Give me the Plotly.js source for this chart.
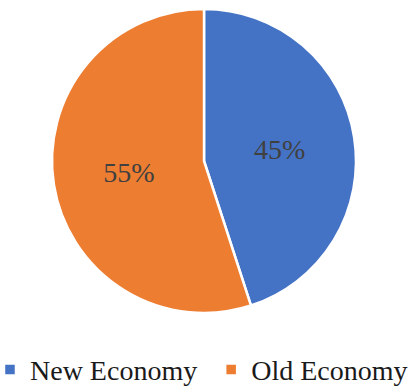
<!DOCTYPE html>
<html>
<head>
<meta charset="utf-8">
<script src="https://cdn.plot.ly/plotly-3.0.1.min.js"></script>
<style>html,body{margin:0;padding:0;background:#fff;}#chart{width:413px;height:387px;}</style>
</head>
<body>
<div id="chart"></div>
<script>
const categories = ["New Economy", "Old Economy"];
const shares = [45, 55];
const sliceColors = ["#4472C4", "#ED7D31"];

const serif = "Liberation Serif";
// small non-collapsing spacer after the first legend entry, so the second entry sits where it does in the reference
const legendLabels = categories.map((c, i) => i < categories.length - 1 ? c + "\u2002\u2005" : c);

const data = [{
  type: "pie",
  labels: legendLabels,
  values: shares,
  sort: false,
  direction: "clockwise",
  rotation: 0,
  domain: { x: [0.126, 0.862], y: [0.191, 0.977] },
  marker: { colors: sliceColors, line: { color: "#ffffff", width: 2.5 } },
  textinfo: "percent",
  textposition: "inside",
  insidetextorientation: "horizontal",
  texttemplate: "%{percent:.0%}",
  textfont: { family: serif, size: 28, color: "#404040" },
  insidetextfont: { family: serif, size: 28, color: "#404040" },
  hoverinfo: "none"
}];

const layout = {
  width: 413,
  height: 387,
  margin: { l: 0, r: 0, t: 0, b: 0, autoexpand: false },
  paper_bgcolor: "#ffffff",
  plot_bgcolor: "#ffffff",
  font: { family: serif },
  showlegend: true,
  legend: {
    orientation: "h",
    x: 0.0048,
    xanchor: "left",
    y: -0.0203,
    yanchor: "bottom",
    indentation: -12,
    font: { family: serif, size: 28, color: "#1a1a1a" },
    itemclick: false,
    itemdoubleclick: false
  }
};

Plotly.newPlot("chart", data, layout, { displayModeBar: false, staticPlot: true });
</script>
</body>
</html>
